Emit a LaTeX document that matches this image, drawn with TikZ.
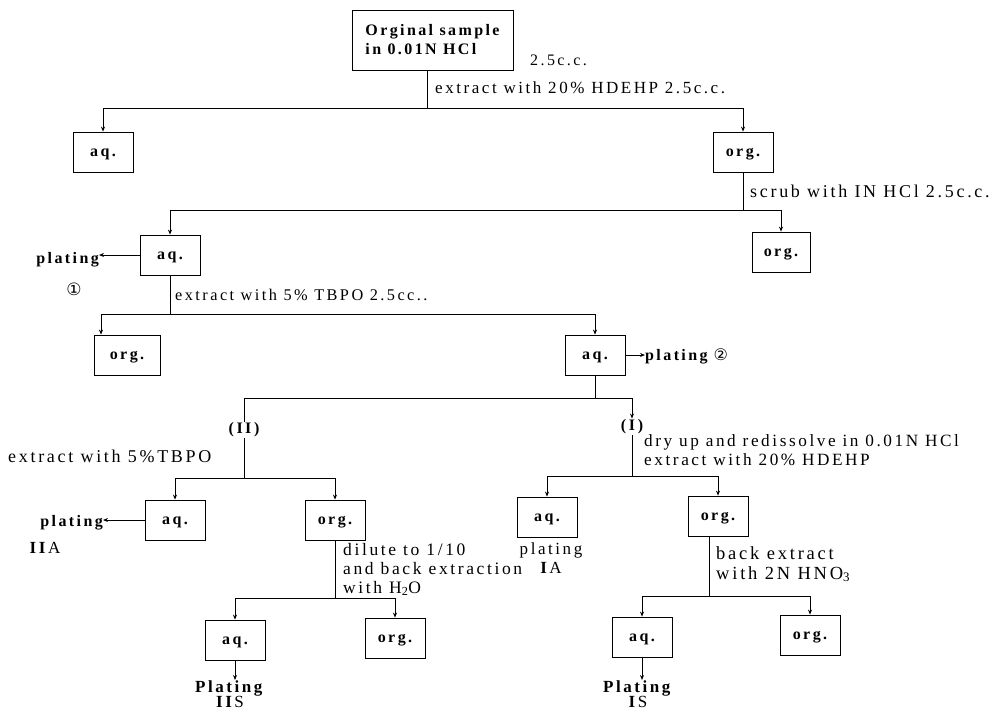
\documentclass[tikz,border=0pt]{standalone}
\usepackage{fontspec}
\setmainfont{Liberation Serif}[LetterSpace=15]
\newfontfamily\symf{DejaVu Sans}
\usetikzlibrary{arrows.meta}
\newcommand\lblfont{\fontsize{17}{19.5}\selectfont}
\newcommand\boxfont{\fontsize{16}{19}\selectfont\bfseries}
\begin{document}
\begin{tikzpicture}[x=1pt,y=-1pt,
  box/.style={draw, line width=0.8pt, minimum width=60pt, minimum height=40pt, inner sep=0pt, text height=11pt, text depth=2pt, font=\boxfont},
  lbl/.style={inner sep=0pt, anchor=base west, font=\lblfont},
  mlbl/.style={inner sep=0pt, anchor=north west, align=left, font=\lblfont},
  bl/.style={inner sep=0pt, font=\boxfont},
  ln/.style={line width=0.8pt},
  arr/.style={ln, -{Stealth[length=5pt,width=4pt]}},
]
\useasboundingbox (0,0) rectangle (993,713);

% top
\node[box, minimum width=161pt, minimum height=60pt, text height=, text depth=, align=left] (orig) at (432.5,40) {Orginal sample\\in 0.01N HCl};
\node[lbl, font=\fontsize{16}{19}\selectfont] (cc) at (530,65) {2.5c.c.};
\coordinate (j1) at (427,108);
\draw[ln] (orig.south -| j1) -- (j1);
\node[lbl] (t1) at (435,93) {extract with 20\% HDEHP 2.5c.c.};
\node[box] (aq1) at (103,152) {aq.};
\node[box] (org1) at (743,152) {org.};
\draw[ln] (aq1.north |- j1) -- (org1.north |- j1);
\draw[arr] (aq1.north |- j1) -- (aq1.north);
\draw[arr] (org1.north |- j1) -- (org1.north);

% scrub
\coordinate (j2) at (743,210);
\draw[ln] (org1.south) -- (j2);
\node[lbl, font=\fontsize{18}{20}\selectfont] (t2) at (750,197) {scrub with IN HCl 2.5c.c.};
\node[box] (aq2) at (170,255) {aq.};
\node[box, minimum width=58pt] (org2) at (781,252) {org.};
\draw[ln] (aq2.north |- j2) -- (org2.north |- j2);
\draw[arr] (aq2.north |- j2) -- (aq2.north);
\draw[arr] (org2.north |- j2) -- (org2.north);
\node[bl, anchor=base east] (pl1) at (99,263) {plating};
\draw[arr] (aq2.west) -- (aq2.west -| pl1.east);
\node[font=\symf\fontsize{17}{17}\selectfont] (c1) at (74,289) {①};

% TBPO
\coordinate (j3) at (170,314);
\draw[ln] (aq2.south) -- (j3);
\node[lbl, font=\fontsize{16.3}{19}\selectfont] (t3) at (175,300) {extract with 5\% TBPO 2.5cc..};
\node[box, minimum width=66pt] (org3) at (127,355) {org.};
\node[box] (aq3) at (595,355) {aq.};
\coordinate (h3l) at (101,314);
\draw[ln] (h3l) -- (aq3.north |- j3);
\draw[arr] (h3l) -- (org3.north -| h3l);
\draw[arr] (aq3.north |- j3) -- (aq3.north);
\node[bl, anchor=base west] (pl2) at (645,360) {plating\hspace{6pt}{\symf\mdseries ②}};
\draw[arr] (aq3.east) -- (aq3.east -| pl2.west);

% split I / II
\coordinate (j4) at (597,398);
\draw[ln] (aq3.south) -- (aq3.south |- j4);
\node[inner sep=1pt, font=\boxfont] (n2) at (244,430) {(\,II\,)};
\node[inner sep=1pt, font=\boxfont] (n1) at (632,427) {(\,I\,)};
\draw[ln] (n2 |- j4) -- (n1 |- j4);
\draw[ln] (n2 |- j4) -- (n2.north);
\draw[arr] (n1 |- j4) -- (n1.north);

% left branch II
\coordinate (j5) at (244,478);
\draw[ln] (n2.south) -- (j5);
\node[lbl, font=\fontsize{18}{20}\selectfont] (t5) at (8,462) {extract with 5\%TBPO};
\node[box] (aq4) at (175,520) {aq.};
\node[box] (org4) at (335,520) {org.};
\draw[ln] (aq4.north |- j5) -- (org4.north |- j5);
\draw[arr] (aq4.north |- j5) -- (aq4.north);
\draw[arr] (org4.north |- j5) -- (org4.north);
\node[bl, anchor=base east] (pl3) at (103,526) {plating};
\draw[arr] (aq4.west) -- (aq4.west -| pl3.east);
\node[font=\lblfont] (iia) at (45,548) {\textbf{II}A};

\coordinate (j6) at (337,598);
\draw[ln] (org4.south) -- (org4.south |- j6);
\node[mlbl, font=\fontsize{17.5}{19}\selectfont] (t6) at (343,543) {dilute to 1/10\\and back extraction\\with H\textsubscript{2}O};
\node[box] (aq5) at (235,640) {aq.};
\node[box] (org5) at (395,638) {org.};
\draw[ln] (aq5.north |- j6) -- (org5.north |- j6);
\draw[arr] (aq5.north |- j6) -- (aq5.north);
\draw[arr] (org5.north |- j6) -- (org5.north);
\node[font=\fontsize{17}{15.5}\selectfont, align=center, anchor=north, inner sep=0pt] (pl5) at (230,680) {\textbf{Plating}\\\textbf{II}S};
\draw[arr] (aq5.south) -- (aq5.south |- pl5.north);

% right branch I
\coordinate (j7) at (635,476);
\draw[ln] (n1.south) -- (n1.south |- j7);
\node[mlbl, font=\fontsize{17.2}{19.5}\selectfont] (t7) at (644,434) {dry up and redissolve in 0.01N HCl\\extract with 20\% HDEHP};
\node[box] (aq6) at (547,517) {aq.};
\node[box] (org6) at (718,516) {org.};
\draw[ln] (aq6.north |- j7) -- (org6.north |- j7);
\draw[arr] (aq6.north |- j7) -- (aq6.north);
\draw[arr] (org6.north |- j7) -- (org6.north);
\node[font=\lblfont, align=center, anchor=north, inner sep=0pt] (pl6) at (551,542) {plating\\\textbf{I}A};

\coordinate (j8) at (709,596);
\draw[ln] (org6.south -| j8) -- (j8);
\node[mlbl, font=\fontsize{18.5}{20}\selectfont] (t8) at (716,546) {back extract\\with 2N HNO\textsubscript{3}};
\node[box] (aq7) at (642,637) {aq.};
\node[box] (org7) at (810,635) {org.};
\draw[ln] (aq7.north |- j8) -- (org7.north |- j8);
\draw[arr] (aq7.north |- j8) -- (aq7.north);
\draw[arr] (org7.north |- j8) -- (org7.north);
\node[font=\fontsize{17}{15.5}\selectfont, align=center, anchor=north, inner sep=0pt] (pl7) at (638,680) {\textbf{Plating}\\\textbf{I}S};
\draw[arr] (aq7.south) -- (aq7.south |- pl7.north);
\end{tikzpicture}
\end{document}
